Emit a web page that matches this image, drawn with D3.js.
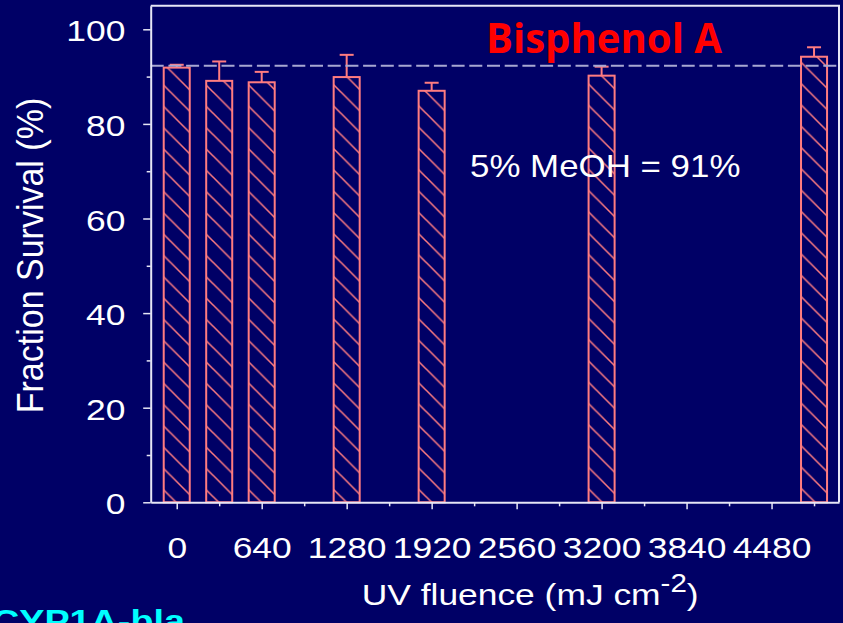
<!DOCTYPE html>
<html>
<head>
<meta charset="utf-8">
<script src="https://cdn.jsdelivr.net/npm/d3@7"></script>
<style>
  body { margin: 0; background: #000066; overflow: hidden; }
  svg { display: block; }
</style>
</head>
<body>
<div id="chart"></div>
<script>
// UV fluence doses (mJ cm-2) and fraction survival (%)
const fluence = [0, 320, 640, 1280, 1920, 3200, 4800];
const survival = [91.9, 89.1, 88.8, 89.9, 87.0, 90.2, 94.2];
const errUp = [0.6, 4.1, 2.2, 4.7, 1.7, 1.9, 2.0];

// Axis ticks
const xTicks = [0, 320, 640, 960, 1280, 1600, 1920, 2240, 2560, 2880, 3200, 3520, 3840, 4160, 4480, 4800];
const xLabels = [0, 640, 1280, 1920, 2560, 3200, 3840, 4480];
const yTicks = [0, 10, 20, 30, 40, 50, 60, 70, 80, 90, 100];
const yLabels = [0, 20, 40, 60, 80, 100];

// 5% MeOH control level
const meohLevel = 92.3;

const W = 843, H = 623;
const font = '"Liberation Sans", Arial, sans-serif';
const barColor = '#ff7c80';
const axisColor = '#e6e6f6';
const sx = 1.18; // text in the slide is slightly stretched

const svg = d3.select('#chart')
    .append('svg')
    .attr('width', W)
    .attr('height', H);

svg.append('rect')
    .attr('width', W)
    .attr('height', H)
    .attr('fill', '#000066');

// Scales
const x = d3.scaleLinear().domain([-196, 4988]).range([150.7, 839]);
const y = d3.scaleLinear().domain([0, 105]).range([502.3, 5.65]);
const barW = x(98) - x(-98);

// Hatch pattern
const p = 21.3;
svg.append('defs')
    .append('pattern')
    .attr('id', 'hatch')
    .attr('patternUnits', 'userSpaceOnUse')
    .attr('width', p)
    .attr('height', p)
    .attr('patternTransform', 'translate(0,6.7)')
    .append('path')
    .attr('d', `M0,0L${p},${p}M${-p / 2},${p / 2}L${p / 2},${p * 1.5}M${p / 2},${-p / 2}L${p * 1.5},${p / 2}`)
    .attr('stroke', barColor)
    .attr('stroke-width', 1.5)
    .attr('fill', 'none');

const data = fluence.map((f, i) => ({ f: f, v: survival[i], e: errUp[i] }));

// Error bars (upper only)
const err = svg.append('g')
    .attr('stroke', barColor)
    .attr('stroke-width', 2);
err.selectAll('line.v')
    .data(data)
    .enter()
    .append('line')
    .attr('class', 'v')
    .attr('x1', d => x(d.f))
    .attr('x2', d => x(d.f))
    .attr('y1', d => y(d.v))
    .attr('y2', d => y(d.v + d.e));
err.selectAll('line.c')
    .data(data)
    .enter()
    .append('line')
    .attr('class', 'c')
    .attr('x1', d => x(d.f) - 7)
    .attr('x2', d => x(d.f) + 7)
    .attr('y1', d => y(d.v + d.e))
    .attr('y2', d => y(d.v + d.e));

// Bars
svg.append('g')
    .selectAll('rect')
    .data(data)
    .enter()
    .append('rect')
    .attr('x', d => x(d.f) - barW / 2)
    .attr('y', d => y(d.v))
    .attr('width', barW)
    .attr('height', d => y(0) - y(d.v))
    .attr('fill', 'url(#hatch)')
    .attr('stroke', barColor)
    .attr('stroke-width', 2);

// Control level line
svg.append('line')
    .attr('x1', x.range()[0])
    .attr('x2', x.range()[1])
    .attr('y1', y(meohLevel))
    .attr('y2', y(meohLevel))
    .attr('stroke', '#a8a8d2')
    .attr('stroke-width', 2)
    .attr('stroke-dasharray', '13,4.7');

// Frame (top and right)
svg.append('path')
    .attr('d', `M${x.range()[0]},${y.range()[1]}H${x.range()[1]}V${y.range()[0]}`)
    .attr('fill', 'none')
    .attr('stroke', axisColor)
    .attr('stroke-width', 2);

// Axes
const xAxis = svg.append('g')
    .attr('transform', `translate(0,${y(0)})`)
    .attr('color', axisColor)
    .call(d3.axisBottom(x)
        .tickValues(xTicks)
        .tickSizeOuter(0)
        .tickFormat(d => xLabels.includes(d) ? d : ''));
xAxis.select('.domain').attr('stroke-width', 2);
xAxis.selectAll('.tick line')
    .attr('y2', d => d % 640 === 0 ? 7 : 4)
    .attr('stroke-width', 1.5);
xAxis.selectAll('.tick text')
    .attr('y', 56)
    .attr('dy', 0)
    .attr('transform', `scale(${sx},1)`)
    .attr('fill', '#ffffff')
    .style('font-family', font)
    .style('font-size', '30px');

const yAxis = svg.append('g')
    .attr('transform', `translate(${x.range()[0]},0)`)
    .attr('color', axisColor)
    .call(d3.axisLeft(y)
        .tickValues(yTicks)
        .tickSizeOuter(0)
        .tickFormat(d => yLabels.includes(d) ? d : ''));
yAxis.select('.domain').attr('stroke-width', 2);
yAxis.selectAll('.tick line')
    .attr('x2', d => d % 20 === 0 ? -7.5 : -4)
    .attr('stroke-width', 1.5);
yAxis.selectAll('.tick text')
    .attr('x', -21.5)
    .attr('dy', 11.5)
    .attr('transform', `scale(${sx},1)`)
    .attr('fill', '#ffffff')
    .style('font-family', font)
    .style('font-size', '30px');

// Axis titles
svg.append('text')
    .attr('transform', 'translate(43,255.5) scale(1.07,1) rotate(-90)')
    .attr('text-anchor', 'middle')
    .attr('fill', '#ffffff')
    .style('font-family', font)
    .style('font-size', '34px')
    .text('Fraction Survival (%)');

const xTitle = svg.append('text')
    .attr('transform', `translate(361.7,605) scale(${sx},1)`)
    .attr('fill', '#ffffff')
    .style('font-family', font)
    .style('font-size', '30px');
xTitle.append('tspan').text('UV fluence (mJ cm');
xTitle.append('tspan').attr('dy', -13).style('font-size', '25px').text('-2');
xTitle.append('tspan').attr('dy', 13).text(')');

// Annotations
svg.append('text')
    .attr('x', 486)
    .attr('y', 53.3)
    .attr('textLength', 236)
    .attr('lengthAdjust', 'spacingAndGlyphs')
    .attr('fill', '#ff0000')
    .style('font-family', '"Open Sans", sans-serif')
    .style('font-weight', 700)
    .style('font-size', '41px')
    .text('Bisphenol A');

svg.append('text')
    .attr('transform', 'translate(470,176.7) scale(1.09,1)')
    .attr('fill', '#ffffff')
    .style('font-family', font)
    .style('font-size', '32px')
    .text('5% MeOH = 91%');

svg.append('text')
    .attr('transform', `translate(-8,632) scale(${sx},1)`)
    .attr('fill', '#00ffff')
    .style('font-family', font)
    .style('font-weight', 700)
    .style('font-size', '32px')
    .text('CYP1A-bla');
</script>
</body>
</html>
